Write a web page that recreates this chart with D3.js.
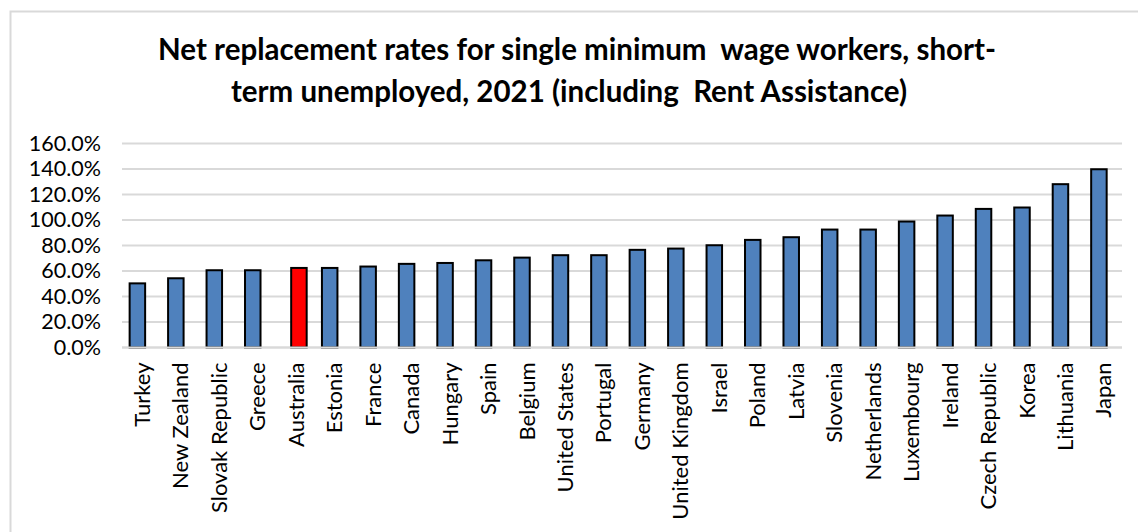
<!DOCTYPE html>
<html>
<head>
<meta charset="utf-8">
<script src="https://cdn.jsdelivr.net/npm/d3@7"></script>
<style>
  html, body { margin: 0; padding: 0; background: #fff; }
  svg { display: block; }
</style>
</head>
<body>
<svg id="chart" width="1138" height="532"></svg>
<script>
const titleLines = [
  "Net replacement rates for single minimum  wage workers, short-",
  "term unemployed, 2021 (including  Rent Assistance)"
];
const countries = ["Turkey","New Zealand","Slovak Republic","Greece","Australia","Estonia","France","Canada","Hungary","Spain","Belgium","United States","Portugal","Germany","United Kingdom","Israel","Poland","Latvia","Slovenia","Netherlands","Luxembourg","Ireland","Czech Republic","Korea","Lithuania","Japan"];
const rates = [50.3,54.3,60.6,60.6,62.4,62.4,63.5,65.6,66.3,68.4,70.5,72.4,72.4,76.6,77.6,80.2,84.4,86.5,92.5,92.5,98.8,103.5,108.7,109.8,128.1,139.8];
const highlighted = ["Australia"];
const yTicks = [0,20,40,60,80,100,120,140,160];

const svg = d3.select("#chart");
const W = 1138, H = 532;
const plot = {left: 122, right: 1122, top: 143.5, bottom: 347.5};
const font = "Lato, 'Open Sans', sans-serif";

// chart area border (extends beyond the right and bottom edges)
svg.append("rect")
  .attr("x", 10.5).attr("y", 11.5)
  .attr("width", W + 20).attr("height", H + 20)
  .attr("fill", "#fff").attr("stroke", "#d9d9d9").attr("stroke-width", 2);

// title
const title = svg.append("text")
  .attr("text-anchor", "middle")
  .attr("font-family", font)
  .attr("font-weight", "bold")
  .attr("font-size", 29.5)
  .attr("fill", "#000");
title.selectAll("tspan").data(titleLines).join("tspan")
  .attr("x", (d, i) => i === 0 ? 577 : 569)
  .attr("y", (d, i) => 60 + i * 42)
  .attr("xml:space", "preserve")
  .style("white-space", "pre")
  .text(d => d);

const x = d3.scaleBand().domain(countries).range([plot.left, plot.right]).padding(0);
const y = d3.scaleLinear().domain([0, 160]).range([plot.bottom, plot.top]);

// gridlines
svg.append("g").selectAll("line").data(yTicks).join("line")
  .attr("x1", plot.left).attr("x2", plot.right)
  .attr("y1", d => y(d)).attr("y2", d => y(d))
  .attr("stroke", "#d9d9d9").attr("stroke-width", 2);

// y axis labels
const yAxis = d3.axisLeft(y).tickValues(yTicks)
  .tickFormat(d => d.toFixed(1) + "%").tickSize(0).tickPadding(0);
const yg = svg.append("g").attr("transform", `translate(101,0)`).call(yAxis);
yg.select(".domain").remove();
yg.selectAll("text")
  .attr("font-family", font)
  .attr("font-size", 21.5).attr("fill", "#000");

// bars: two series (Excel-style overlap), main and highlighted
const barW = 15.5;
const seriesOffset = 3.85;
const data = countries.map((c, i) => ({c, v: rates[i], hi: highlighted.includes(c)}));
svg.append("g").selectAll("rect").data(data).join("rect")
  .attr("x", d => x(d.c) + x.bandwidth() / 2 + (d.hi ? seriesOffset : -seriesOffset) - barW / 2)
  .attr("y", d => y(d.v))
  .attr("width", barW)
  .attr("height", d => y(0) - y(d.v))
  .attr("fill", d => d.hi ? "#ff0000" : "#4f81bd")
  .attr("stroke", "#000").attr("stroke-width", 2);

// x axis line
svg.append("line")
  .attr("x1", plot.left).attr("x2", plot.right)
  .attr("y1", y(0)).attr("y2", y(0))
  .attr("stroke", "#d9d9d9").attr("stroke-width", 2);

// x axis labels
const xAxis = d3.axisBottom(x).tickSize(0).tickPadding(0);
const xg = svg.append("g").attr("transform", `translate(0,${y(0)})`).call(xAxis);
xg.select(".domain").remove();
xg.selectAll(".tick text")
  .attr("font-family", font)
  .attr("font-size", 22).attr("fill", "#000")
  .attr("text-anchor", "end")
  .attr("transform", "translate(1,15) rotate(-90)")
  .attr("x", 0).attr("y", 0).attr("dy", "0.35em");
</script>
</body>
</html>
